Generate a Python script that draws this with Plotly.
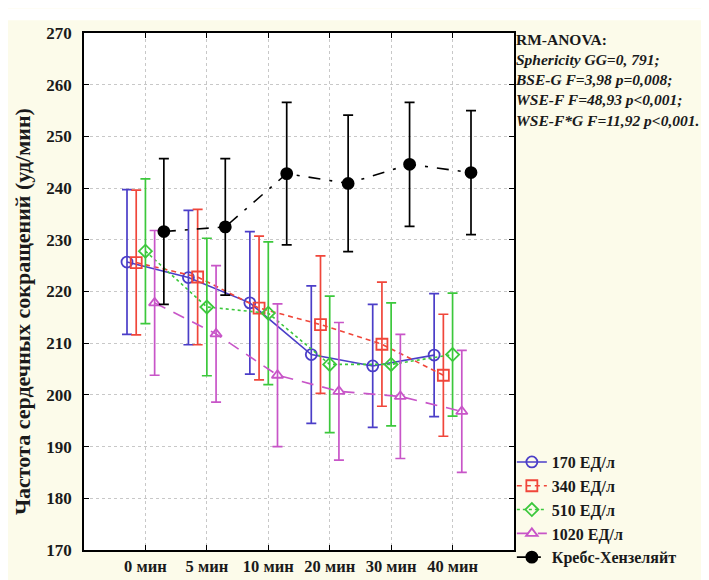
import numpy as np
import plotly.graph_objects as go

categories = ["0 мин", "5 мин", "10 мин", "20 мин", "30 мин", "40 мин"]
series_names = ["170 ЕД/л", "340 ЕД/л", "510 ЕД/л", "1020 ЕД/л", "Кребс-Хензеляйт"]

mean_170 = [225.7, 222.7, 217.8, 207.8, 205.6, 207.7]
err_170 = [14.0, 13.0, 13.8, 13.3, 11.9, 11.9]
mean_340 = [225.6, 222.8, 216.8, 213.6, 209.8, 203.8]
err_340 = [14.0, 13.1, 13.9, 13.3, 12.0, 11.8]
mean_510 = [227.8, 217.0, 215.8, 205.9, 205.9, 207.8]
err_510 = [14.0, 13.3, 13.8, 13.2, 11.9, 11.9]
mean_1020 = [217.8, 211.8, 203.8, 200.7, 199.7, 196.8]
err_1020 = [14.0, 13.2, 13.8, 13.3, 12.0, 11.8]
mean_kh = [231.6, 232.5, 242.8, 240.9, 244.6, 243.0]
err_kh = [14.1, 13.2, 13.8, 13.2, 12.0, 12.0]

means = [mean_170, mean_340, mean_510, mean_1020, mean_kh]
errs = [err_170, err_340, err_510, err_1020, err_kh]

colors = ["#4b3ec8", "#f0463a", "#3cc83c", "#c855c8", "#000000"]
dashes = ["solid", "5px,4px", "dot", "12px,9px", "12px,9px,3px,9px"]
symbols = ["circle-open", "square-open", "diamond-open", "triangle-up-open", "circle"]
msizes = [11, 11, 10, 10, 11]
offsets = [-0.3, -0.15, 0.0, 0.15, 0.3]

SERIF = "Liberation Serif"
base_x = np.arange(len(categories))

fig = go.Figure()
for name, m, e, c, d, s, ms, off in zip(series_names, means, errs, colors, dashes,
                                          symbols, msizes, offsets):
    fig.add_trace(go.Scatter(
        x=base_x + off, y=m, name=name, mode="lines+markers",
        line=dict(color=c, width=1.6, dash=d),
        marker=dict(symbol=s, size=ms, color=c,
                    line=dict(color=c, width=1.8)),
        error_y=dict(type="data", array=e, visible=True, color=c,
                     thickness=1.7, width=5),
    ))

fig.update_layout(
    width=709, height=580,
    margin=dict(l=76, r=203, t=25, b=27),
    paper_bgcolor="#fcfbea",
    plot_bgcolor="#ffffff",
    showlegend=True,
    legend=dict(x=0.995, y=0.203, xanchor="left", yanchor="top",
                bgcolor="rgba(0,0,0,0)",
                font=dict(family=SERIF, size=16, color="#1a1a1a", weight="bold"),
                tracegroupgap=0, itemwidth=30),
    xaxis=dict(range=[-1, 6], tickvals=list(base_x), ticktext=categories,
               showgrid=True, gridcolor="#c8c8c8", griddash="dot", gridwidth=1,
               zeroline=False, showline=True, linecolor="#000", linewidth=1.5,
               mirror="ticks", ticks="inside", ticklen=5, tickcolor="#000",
               tickfont=dict(family=SERIF, size=16.5, color="#1a1a1a", weight="bold")),
    yaxis=dict(range=[170, 270], dtick=10,
               showgrid=True, gridcolor="#c8c8c8", griddash="dot", gridwidth=1,
               zeroline=False, showline=True, linecolor="#000", linewidth=1.5,
               mirror="ticks", ticks="inside", ticklen=5, tickcolor="#000",
               ticklabelstandoff=7,
               tickfont=dict(family=SERIF, size=17, color="#1a1a1a", weight="bold")),
)

fig.add_shape(type="rect", xref="paper", yref="paper",
              x0=-76 / 430, x1=633 / 430, y0=1 + 13 / 528, y1=1 + 25 / 528,
              fillcolor="#ffffff", line=dict(width=0), layer="below")

fig.add_annotation(
    xref="paper", yref="paper", x=-62 / 430, y=(553 - 310) / 528,
    text="<b>Частота сердечных сокращений (уд/мин)</b>", textangle=-90,
    showarrow=False, xanchor="center", yanchor="middle",
    font=dict(family=SERIF, size=22, color="#1a1a1a"))

anova_lines = [
    "<b>RM-ANOVA:</b>",
    "<b><i>Sphericity GG=0, 791;</i></b>",
    "<b><i>BSE-G F=3,98 p=0,008;</i></b>",
    "<b><i>WSE-F F=48,93 p&lt;0,001;</i></b>",
    "<b><i>WSE-F*G F=11,92 p&lt;0,001.</i></b>",
]
fig.add_annotation(
    xref="paper", yref="paper", x=(505 - 76) / 430, y=(553 - 21) / 528,
    text="<br>".join(anova_lines), showarrow=False, align="left",
    xanchor="left", yanchor="top",
    font=dict(family=SERIF, size=15.5, color="#1a1a1a"))

fig.write_html("out.html")
